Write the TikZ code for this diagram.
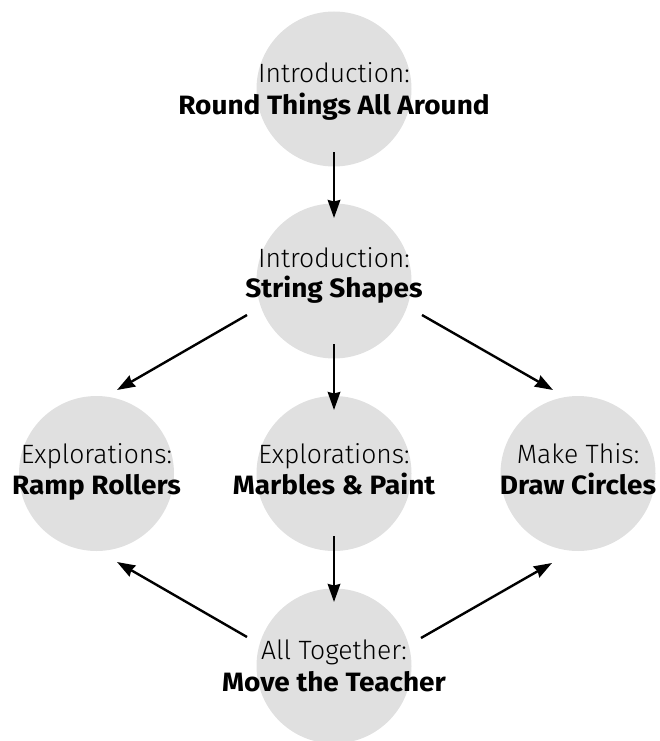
\documentclass[tikz,border=0pt]{standalone}
\usepackage{fontspec}
\setmainfont{Fira Sans}[UprightFont={* Light}, BoldFont={* Bold}, BoldFeatures={FakeStretch=1.056}]
\usetikzlibrary{arrows.meta,calc}
\definecolor{circfill}{RGB}{224,224,224}
\begin{document}
\begin{tikzpicture}[x=1pt,y=-1pt,
  topic/.style={circle, fill=circfill, minimum size=155pt, inner sep=0pt},
  lineA/.style={anchor=base, inner sep=0pt, font=\fontsize{26.5}{31}\selectfont},
  lineB/.style={anchor=base, inner sep=0pt, font=\fontsize{26.5}{31}\selectfont\bfseries},
  conn/.style={line width=2.4pt, -{Stealth[length=18pt,width=12.5pt,inset=1.5pt]}}]
\useasboundingbox (0,0) rectangle (660,741);
\node[topic] (c1) at (334,89) {};
\node[topic] (c2) at (334,281) {};
\node[topic] (c3) at (96.5,473.5) {};
\node[topic] (c4) at (334,473.5) {};
\node[topic] (c5) at (578,473.5) {};
\node[topic] (c6) at (334,666) {};
\node[lineA] (t1a) at (334,83) {Introduction:};
\node[lineB] (t1b) at (334,115) {Round Things All Around};
\node[lineA] (t2a) at (334,267) {Introduction:};
\node[lineB] (t2b) at (334,297) {String Shapes};
\node[lineA] (t3a) at (96.5,463) {Explorations:};
\node[lineB] (t3b) at (96.5,494) {Ramp Rollers};
\node[lineA] (t4a) at (334,463) {Explorations:};
\node[lineB] (t4b) at (334,494) {Marbles \& Paint};
\node[lineA] (t5a) at (578,463) {Make This:};
\node[lineB] (t5b) at (578,494) {Draw Circles};
\node[lineA] (t6a) at (334,659) {All Together:};
\node[lineB] (t6b) at (334,691) {Move the Teacher};
\draw[conn] ($(c1)+(0,63)$) -- ($(c2)+(0,-63)$);
\draw[conn] ($(c2)+(0,63)$) -- ($(c4)+(0,-63.5)$);
\draw[conn] ($(c4)+(0,62.5)$) -- ($(c6)+(0,-64)$);
\draw[conn] ($(c2)+(-87,34)$) -- ($(c3)+(20.5,-83.5)$);
\draw[conn] ($(c2)+(88,34)$) -- ($(c5)+(-25,-83.5)$);
\draw[conn] ($(c6)+(-87,-29)$) -- ($(c3)+(20.5,88.5)$);
\draw[conn] ($(c6)+(87,-28)$) -- ($(c5)+(-26,89.5)$);
\end{tikzpicture}
\end{document}
